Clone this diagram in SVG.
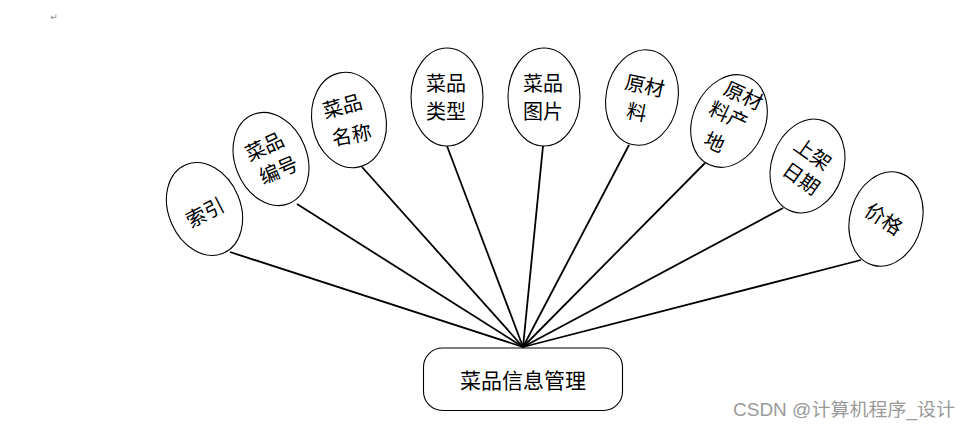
<svg xmlns="http://www.w3.org/2000/svg" width="969" height="427" viewBox="0 0 969 427">
<style>
.e{fill:#fff;stroke:#000;stroke-width:1.1}
.t{font-family:"Noto Sans CJK SC","Noto Sans",sans-serif;font-size:20px;fill:#000;text-anchor:middle;dominant-baseline:central}
.c{stroke:#000;stroke-width:1.8;fill:none}
</style>
<rect width="969" height="427" fill="#fff"/>
<text x="54" y="20" font-family="DejaVu Sans,sans-serif" font-size="9" fill="#888" text-anchor="middle">↵</text>
<g id="connectors">
<line class="c" x1="230" y1="252" x2="523" y2="347"/>
<line class="c" x1="297" y1="204" x2="523" y2="347"/>
<line class="c" x1="362" y1="167" x2="523" y2="347"/>
<line class="c" x1="447" y1="146" x2="523" y2="347"/>
<line class="c" x1="543" y1="146" x2="523" y2="347"/>
<line class="c" x1="629" y1="145" x2="523" y2="347"/>
<line class="c" x1="705" y1="163" x2="523" y2="347"/>
<line class="c" x1="783" y1="208" x2="523" y2="347"/>
<line class="c" x1="861" y1="260" x2="523" y2="347"/>
</g>
<g id="n-suoyin">
<ellipse class="e" transform="translate(204.5,209) rotate(-23)" rx="36" ry="48"/>
<text class="t" transform="translate(204.5,211.5) rotate(-27)">索引</text>
</g>
<g id="n-bianhao">
<ellipse class="e" transform="translate(271,159) rotate(-22)" rx="36" ry="48"/>
<text class="t" transform="translate(264,145.5) rotate(-25)">菜品</text>
<text class="t" transform="translate(278,169) rotate(-23)">编号</text>
</g>
<g id="n-mingcheng">
<ellipse class="e" transform="translate(349,120) rotate(-11)" rx="37" ry="48"/>
<text class="t" transform="translate(342,105) rotate(-15)">菜品</text>
<text class="t" transform="translate(351.5,134) rotate(-10)">名称</text>
</g>
<g id="n-leixing">
<ellipse class="e" cx="447" cy="97" rx="36" ry="49"/>
<text class="t" x="446" y="82">菜品</text>
<text class="t" x="446" y="110">类型</text>
</g>
<g id="n-tupian">
<ellipse class="e" cx="544" cy="97" rx="36" ry="49"/>
<text class="t" x="543" y="82">菜品</text>
<text class="t" x="543" y="110">图片</text>
</g>
<g id="n-yuancailiao">
<ellipse class="e" transform="translate(642,97.5) rotate(10)" rx="36" ry="48"/>
<text class="t" transform="translate(645,84.5) rotate(12)">原材</text>
<text class="t" transform="translate(637,111) rotate(12)">料</text>
</g>
<g id="n-chandi">
<ellipse class="e" transform="translate(729,121) rotate(24)" rx="36" ry="48"/>
<text class="t" transform="translate(744,94.5) rotate(25)">原材</text>
<text class="t" transform="translate(729,114.5) rotate(25)">料产</text>
<text class="t" transform="translate(715,141) rotate(25)">地</text>
</g>
<g id="n-riqi">
<ellipse class="e" transform="translate(807.5,166) rotate(19)" rx="36" ry="48"/>
<text class="t" transform="translate(813.5,153) rotate(35)">上架</text>
<text class="t" transform="translate(802,177.5) rotate(35)">日期</text>
</g>
<g id="n-jiage">
<ellipse class="e" transform="translate(886,219) rotate(16)" rx="36" ry="48"/>
<text class="t" transform="translate(884.5,218) rotate(33)">价格</text>
</g>
<g id="n-main">
<rect x="423.5" y="348" width="199" height="62.5" rx="19" ry="19" fill="#fff" stroke="#000" stroke-width="1.1"/>
<text class="t" x="523" y="379" style="font-size:21px">菜品信息管理</text>
</g>
<text x="733" y="416" font-family="Liberation Sans,Noto Sans CJK SC,sans-serif" font-size="18" fill="#9a9a9a" textLength="222" lengthAdjust="spacingAndGlyphs">CSDN @计算机程序_设计</text>
</svg>
